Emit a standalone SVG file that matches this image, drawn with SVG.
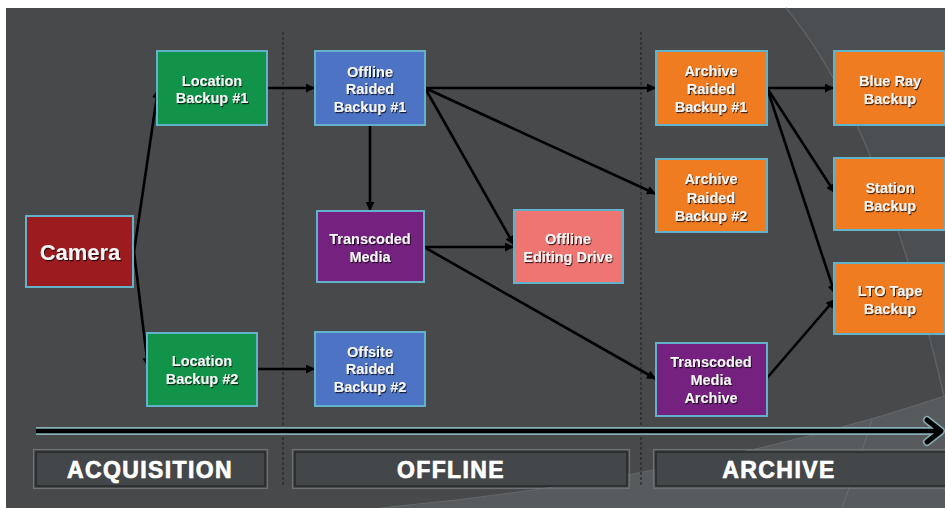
<svg xmlns="http://www.w3.org/2000/svg" width="945" height="508" viewBox="0 0 945 508">
<defs>
<style>
.node rect{stroke:#62b2cc;stroke-width:2}
.lbl{font-family:"Liberation Sans",Arial,sans-serif;font-weight:bold;font-size:14.5px;fill:#f6f6f6;text-anchor:middle;filter:url(#sh)}
.cam{font-size:22px}
.conn path{fill:none;stroke:#000;stroke-width:2.6;marker-end:url(#ah)}
.phase rect.o{fill:none;stroke:#6e7274;stroke-width:1.2}
.phase rect.i{fill:#444749;stroke:#26282a;stroke-width:1.5}
.phase text{font-family:"Liberation Sans",Arial,sans-serif;font-weight:bold;font-size:23px;fill:#fff;stroke:#fff;stroke-width:0.7;text-anchor:middle;letter-spacing:1.4px}
.dash{stroke:#232527;stroke-width:1.2;stroke-dasharray:3 2}
</style>
<marker id="ah" viewBox="0 0 10 10" refX="10" refY="5" markerWidth="10" markerHeight="9" markerUnits="userSpaceOnUse" orient="auto">
<path d="M0 0 L10 5 L0 10 Z" fill="#000"/>
</marker>
<filter id="sh" x="-10%" y="-20%" width="130%" height="150%">
<feDropShadow dx="1" dy="1.2" stdDeviation="0.6" flood-color="#000" flood-opacity="0.75"/>
</filter>
</defs>
<rect x="0" y="0" width="945" height="508" fill="#ffffff"/>
<rect x="6" y="8" width="939" height="500" fill="#47494b"/>
<g id="background-decor">
<path d="M786 8 Q880 120 945 400 L945 8 Z" fill="#4c4f51"/>
<path d="M786 8 Q880 120 945 400" fill="none" stroke="#5d6163" stroke-width="1.5"/>
<path d="M380 508 Q700 478 945 396 L945 508 Z" fill="#585b5d"/>
<path d="M380 508 Q700 478 945 396" fill="none" stroke="#65696b" stroke-width="1"/>
<path d="M872 420 Q858 465 842 508" fill="none" stroke="#6a6e70" stroke-width="1"/>
</g>
<g id="dividers">
<line class="dash" x1="283" y1="32" x2="283" y2="487"/>
<line class="dash" x1="641" y1="32" x2="641" y2="487"/>
</g>
<g id="timeline">
<line x1="36" y1="431" x2="938" y2="431" stroke="#86aeb4" stroke-width="8"/>
<path d="M927 420 L941 431 L927 442" fill="none" stroke="#86aeb4" stroke-width="8" stroke-linecap="round" stroke-linejoin="round"/>
<line x1="36" y1="431" x2="938" y2="431" stroke="#000" stroke-width="4.5"/>
<path d="M927 420 L941 431 L927 442" fill="none" stroke="#000" stroke-width="5" stroke-linecap="round" stroke-linejoin="round"/>
</g>
<g id="phase-acquisition" class="phase">
<rect class="o" x="33.5" y="449.5" width="234" height="39"/>
<rect class="i" x="36" y="452" width="229" height="34"/>
<text x="150" y="478">ACQUISITION</text>
</g>
<g id="phase-offline" class="phase">
<rect class="o" x="292.5" y="449.5" width="337" height="39"/>
<rect class="i" x="295" y="452" width="332" height="34"/>
<text x="451" y="478">OFFLINE</text>
</g>
<g id="phase-archive" class="phase">
<rect class="o" x="653.5" y="449.5" width="300" height="39"/>
<rect class="i" x="656" y="452" width="300" height="34"/>
<text x="779" y="478">ARCHIVE</text>
</g>
<g id="connectors" class="conn">
<path d="M134 252 L158 89"/>
<path d="M134 252 L148 367"/>
<path d="M267 88 L315 88"/>
<path d="M257 369 L315 369"/>
<path d="M425 88 L656 88"/>
<path d="M425 88 L656 194"/>
<path d="M425 88 L514 245"/>
<path d="M370 125 L370 211"/>
<path d="M424 247 L514 247"/>
<path d="M424 247 L656 379"/>
<path d="M767 88 L834 88"/>
<path d="M767 88 L835 193"/>
<path d="M767 88 L835 294"/>
<path d="M767 378 L835 299"/>
</g>
<g id="camera" class="node">
<rect x="26" y="216" width="107" height="71" fill="#9b1b1f"/>
<text class="lbl cam" x="80" y="260">Camera</text>
</g>
<g id="location-backup-1" class="node">
<rect x="157" y="51" width="110" height="74" fill="#11944a"/>
<text class="lbl" x="212" y="86">Location</text>
<text class="lbl" x="212" y="103">Backup #1</text>
</g>
<g id="location-backup-2" class="node">
<rect x="147" y="333" width="110" height="73" fill="#11944a"/>
<text class="lbl" x="202" y="366">Location</text>
<text class="lbl" x="202" y="384">Backup #2</text>
</g>
<g id="offline-raided-backup-1" class="node">
<rect x="315" y="51" width="110" height="74" fill="#4d73c5"/>
<text class="lbl" x="370" y="77">Offline</text>
<text class="lbl" x="370" y="94">Raided</text>
<text class="lbl" x="370" y="112">Backup  #1</text>
</g>
<g id="transcoded-media" class="node">
<rect x="317" y="211" width="107" height="71" fill="#75217f"/>
<text class="lbl" x="370" y="244">Transcoded</text>
<text class="lbl" x="370" y="262">Media</text>
</g>
<g id="offline-editing-drive" class="node">
<rect x="514" y="210" width="109" height="73" fill="#ef7573"/>
<text class="lbl" x="568" y="244">Offline</text>
<text class="lbl" x="568" y="262">Editing Drive</text>
</g>
<g id="offsite-raided-backup-2" class="node">
<rect x="315" y="332" width="110" height="74" fill="#4d73c5"/>
<text class="lbl" x="370" y="357">Offsite</text>
<text class="lbl" x="370" y="374">Raided</text>
<text class="lbl" x="370" y="392">Backup #2</text>
</g>
<g id="archive-raided-backup-1" class="node">
<rect x="656" y="51" width="111" height="74" fill="#f07c22"/>
<text class="lbl" x="711" y="76">Archive</text>
<text class="lbl" x="711" y="94">Raided</text>
<text class="lbl" x="711" y="112">Backup #1</text>
</g>
<g id="archive-raided-backup-2" class="node">
<rect x="656" y="159" width="111" height="73" fill="#f07c22"/>
<text class="lbl" x="711" y="184">Archive</text>
<text class="lbl" x="711" y="203">Raided</text>
<text class="lbl" x="711" y="221">Backup #2</text>
</g>
<g id="transcoded-media-archive" class="node">
<rect x="656" y="343" width="111" height="73" fill="#75217f"/>
<text class="lbl" x="711" y="367">Transcoded</text>
<text class="lbl" x="711" y="385">Media</text>
<text class="lbl" x="711" y="403">Archive</text>
</g>
<g id="blue-ray-backup" class="node">
<rect x="834" y="51" width="111" height="74" fill="#f07c22"/>
<text class="lbl" x="890" y="86">Blue Ray</text>
<text class="lbl" x="890" y="104">Backup</text>
</g>
<g id="station-backup" class="node">
<rect x="834" y="158" width="111" height="72" fill="#f07c22"/>
<text class="lbl" x="890" y="193">Station</text>
<text class="lbl" x="890" y="211">Backup</text>
</g>
<g id="lto-tape-backup" class="node">
<rect x="834" y="263" width="111" height="71" fill="#f07c22"/>
<text class="lbl" x="890" y="296">LTO Tape</text>
<text class="lbl" x="890" y="314">Backup</text>
</g>
</svg>
